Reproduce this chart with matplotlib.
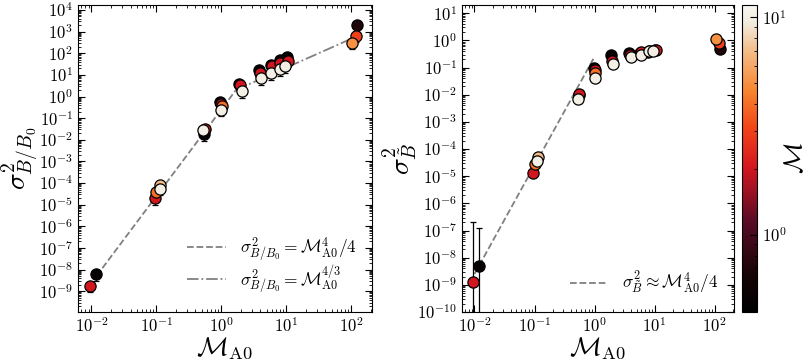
import numpy as np
import matplotlib
matplotlib.use("Agg")
import matplotlib.pyplot as plt
from matplotlib.colors import LinearSegmentedColormap, LogNorm
from matplotlib.ticker import LogLocator, FuncFormatter, NullFormatter

plt.rcParams['mathtext.fontset'] = 'cm'
plt.rcParams['font.family'] = ['DejaVu Serif']

# ---------------- data ----------------
MA0 = [0.0095, 0.0118, 0.095, 0.100, 0.115, 0.112, 0.55, 0.56, 0.52,
       0.97, 1.00, 1.02, 1.00, 1.88, 1.92, 2.05, 3.80, 3.90, 4.10,
       5.80, 6.00, 5.90, 7.90, 8.10, 8.00, 10.3, 10.5, 9.5, 125.0, 118.0, 105.0]
Mach = [2.0, 0.5, 2.0, 4.0, 7.0, 10.0, 0.5, 2.0, 10.0,
        0.5, 2.0, 4.0, 10.0, 0.5, 2.0, 10.0, 0.5, 2.0, 10.0,
        0.5, 2.0, 10.0, 0.5, 2.0, 10.0, 0.5, 2.0, 10.0, 0.7, 3.0, 5.0]
sigB_B0 = [1.8e-9, 6e-9, 2e-5, 4e-5, 8.5e-5, 5.5e-5, 1.8e-2, 3e-2, 2.8e-2,
           5.5e-1, 4.5e-1, 3.5e-1, 2.5e-1, 4.0, 3.3, 1.8, 16, 12, 7,
           30, 25, 12, 50, 35, 18, 70, 45, 25, 2000, 650, 300]
sigB_B0_err = [0.5 * v for v in sigB_B0]
sigBt = [1.25e-9, 5e-9, 1.3e-5, 2.8e-5, 5.2e-5, 3.5e-5, 1.0e-2, 1.1e-2, 7e-3,
         0.10, 0.08, 0.065, 0.042, 0.28, 0.18, 0.13, 0.33, 0.30, 0.24,
         0.35, 0.36, 0.28, 0.38, 0.40, 0.39, 0.45, 0.44, 0.42, 0.48, 0.80, 1.15]
sigBt_err = [2e-7, 1.2e-7] + [0.15 * v for v in sigBt[2:]]

fit_x_low = [0.012, 1.68]
fit_x_high = [1.68, 100.0]
fit_x_right = [0.01, 1.0]

# ---------------- style ----------------
cmap = LinearSegmentedColormap.from_list("heat", [
    (0.0, "#000000"), (0.12, "#160406"), (0.30, "#5c0c26"), (0.47, "#d4161f"),
    (0.60, "#f24418"), (0.72, "#f7842e"), (0.86, "#f3c08e"), (0.94, "#f1ebdc"),
    (1.0, "#f8f7f3")])
norm = LogNorm(vmin=0.44, vmax=11.4)

fig = plt.figure(figsize=(8.09, 3.61), dpi=100)
ax1 = fig.add_axes([78/809, 1-312/361, 294/809, 307/361])
ax2 = fig.add_axes([462/809, 1-312/361, 272/809, 307/361])
cax = fig.add_axes([742/809, 1-312/361, 15/809, 307/361])

def logfmt(v, pos):
    e = int(np.round(np.log10(v)))
    return r'$10^{%d}$' % e

order = np.argsort(Mach, kind='stable')
x = np.array(MA0)[order]
m = np.array(Mach)[order]

for ax, y, yerr in [(ax1, np.array(sigB_B0)[order], np.array(sigB_B0_err)[order]),
                    (ax2, np.array(sigBt)[order], np.array(sigBt_err)[order])]:
    ax.set_xscale('log')
    ax.set_yscale('log')
    for xi, yi, ei, mi in zip(x, y, yerr, m):
        ax.errorbar([xi], [yi], yerr=[[ei], [ei]], fmt='none', ecolor='black',
                    elinewidth=0.9, capsize=2, capthick=0.9, zorder=2)
        ax.scatter([xi], [yi], c=[mi], cmap=cmap, norm=norm, s=65,
                   edgecolors='black', linewidths=0.9, zorder=3)

xl = np.logspace(np.log10(fit_x_low[0]), np.log10(fit_x_low[1]), 50)
xh = np.logspace(np.log10(fit_x_high[0]), np.log10(fit_x_high[1]), 50)
ax1.plot(xl, xl**4 / 4, ls='--', color='gray', lw=1.3, zorder=1,
         label=r'$\sigma^2_{B/B_0} = \mathcal{M}_{\rm A0}^4/4$')
ax1.plot(xh, xh**(4/3), ls='-.', color='gray', lw=1.3, zorder=1,
         label=r'$\sigma^2_{B/B_0} = \mathcal{M}_{\rm A0}^{4/3}$')
xr = np.logspace(np.log10(fit_x_right[0]), np.log10(fit_x_right[1]), 50)
ax2.plot(xr, xr**4 / 4, ls='--', color='gray', lw=1.3, zorder=1,
         label=r'$\sigma^2_{\tilde{B}} \approx \mathcal{M}_{\rm A0}^4/4$')

ax1.set_xlim(0.0062, 210)
ax2.set_xlim(0.0062, 210)
ax1.set_ylim(1.1e-10, 1.7e4)
ax2.set_ylim(1e-10, 20)

for ax in (ax1, ax2):
    for axis in (ax.xaxis, ax.yaxis):
        axis.set_major_locator(LogLocator(base=10, numticks=100))
        axis.set_minor_locator(LogLocator(base=10, subs=np.arange(2, 10), numticks=100))
        axis.set_major_formatter(FuncFormatter(logfmt))
        axis.set_minor_formatter(NullFormatter())
    ax.tick_params(which='both', direction='in', top=True, right=True, labelsize=12)
    ax.tick_params(which='major', length=5, width=0.8)
    ax.tick_params(which='minor', length=2.5, width=0.6)
    ax.set_xlabel(r'$\mathcal{M}_{\rm A0}$', fontsize=19, labelpad=0)
    ax.legend(loc='lower right', frameon=False, fontsize=12.5, handlelength=2.2,
              labelspacing=0.05, borderaxespad=0.5, handletextpad=0.8)

ax1.set_ylabel(r'$\sigma^2_{B/B_0}$', fontsize=20, labelpad=-1)
ax2.set_ylabel(r'$\sigma^2_{\tilde{B}}$', fontsize=20, labelpad=-1)

sm = plt.cm.ScalarMappable(norm=norm, cmap=cmap)
cb = fig.colorbar(sm, cax=cax)
cb.ax.yaxis.set_major_formatter(FuncFormatter(logfmt))
cb.ax.yaxis.set_minor_formatter(NullFormatter())
cb.ax.tick_params(which='both', direction='in', labelsize=12)
cb.ax.tick_params(which='major', length=5)
cb.ax.tick_params(which='minor', length=2.5)
cb.set_label(r'$\mathcal{M}$', fontsize=19, labelpad=-3)

fig.savefig('out.png', dpi=100)
